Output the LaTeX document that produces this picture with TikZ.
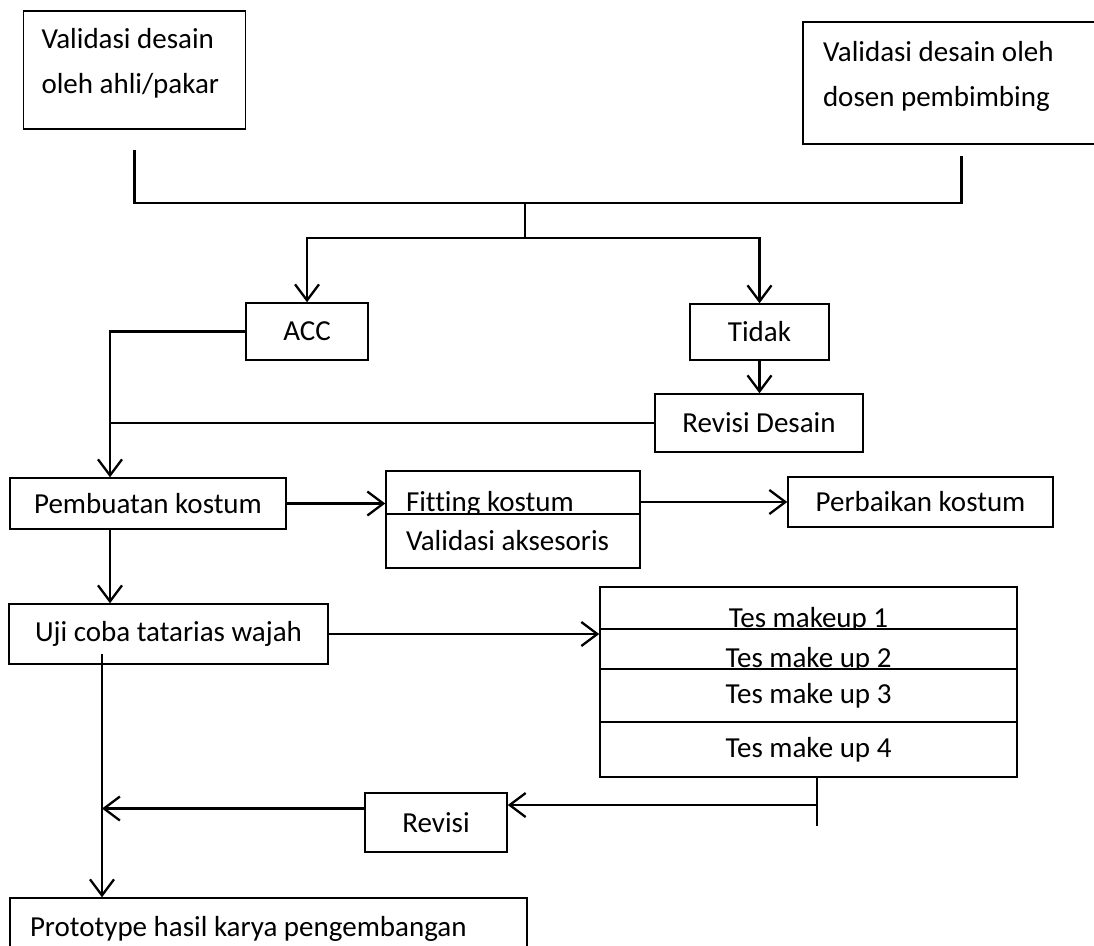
\documentclass[tikz,border=0pt]{standalone}
\usepackage{fontspec}
\setmainfont{Carlito}[Ligatures=NoCommon]
\usetikzlibrary{arrows.meta, positioning, calc}
\tikzset{
  box/.style   = {draw, line width=1.5pt, fill=white, inner sep=0pt, align=center,
                  font=\fontsize{29}{41}\selectfont},
  lbox/.style  = {box, align=flush left, inner xsep=20pt},
  cut/.style   = {text height=38pt, text depth=0pt},
  high/.style  = {font=\fontsize{29}{45}\selectfont, text height=22pt, text depth=66pt},
  arrow/.style = {-{Straight Barb[length=16pt,width=24pt]}, line width=2.3pt},
  line/.style  = {line width=2.3pt},
}

\begin{document}
\begin{tikzpicture}[x=1pt, y=-1pt]
  \useasboundingbox (0,0) rectangle (1094,945);
  % validasi
  \node[lbox, high, text width=186pt, inner xsep=18pt, minimum height=118pt] (ahli) at (134.5,70)
       {Validasi desain\\oleh ahli/pakar};
  \node[lbox, high, text width=277pt, minimum height=122pt] (dosen) at (961.5,83)
       {Validasi desain oleh\\dosen pembimbing};
  \node[box, minimum width=122pt, minimum height=57pt] (acc) at (307,331.5) {ACC};
  \node[box, minimum width=139pt, minimum height=56pt] (tidak) at (759.5,332) {Tidak};
  \node[box, minimum width=208pt, minimum height=58pt] (revd) at (759,423) {Revisi Desain};
  % kostum
  \node[box, minimum width=276pt, minimum height=51pt] (pemb) at (148,503.5) {Pembuatan kostum};
  \node[lbox, cut, text width=214pt, minimum height=43pt] (fit) at (513,492.5) {Fitting kostum};
  \node[lbox, text width=214pt, minimum height=54pt] (aks) at (513,541) {Validasi aksesoris};
  \node[box, minimum width=265pt, minimum height=50pt] (perb) at (920.5,502) {Perbaikan kostum};
  % tatarias
  \node[box, minimum width=319pt, minimum height=60pt] (uji) at (168.5,634) {Uji coba tatarias wajah};
  \node[box, cut, minimum width=417pt, minimum height=42pt] (t1) at (808.5,608) {Tes makeup 1};
  \node[box, cut, text height=37pt, minimum width=417pt, minimum height=40pt] (t2) at (808.5,649) {Tes make up 2};
  \node[box, minimum width=417pt, minimum height=53pt] (t3) at (808.5,695.5) {Tes make up 3};
  \node[box, minimum width=417pt, minimum height=55pt] (t4) at (808.5,749.5) {Tes make up 4};
  \node[box, minimum width=142pt, minimum height=59pt] (revisi) at (436,822.5) {Revisi};
  \node[lbox, text width=477pt, minimum height=62pt] (proto) at (268.5,929)
       {Prototype hasil karya pengembangan};

  \coordinate (jt) at (525,203);
  \coordinate (jb) at (525,238);
  \coordinate (trunk) at (110,0);
  \coordinate (trunk2) at (102,0);
  \coordinate (tail) at (817,826);
  \coordinate (rv) at (817,805);

  \draw[line] ([yshift=-20pt]ahli.south) |- (jt) -| ([yshift=-11pt]dosen.south);
  \draw[line] (jt) -- (jb);
  \draw[arrow] (jb) -| (acc.north);
  \draw[arrow] (jb) -| (tidak.north);
  \draw[arrow] (tidak.south) -- (tidak.south |- revd.north);
  \draw[arrow] (acc.west) -| (pemb.north -| trunk);
  \draw[line] (revd.west) -- (revd.west -| trunk);
  \draw[arrow] (pemb.east) -- (pemb.east -| fit.west);
  \draw[arrow] (perb.west -| fit.east) -- (perb.west);
  \draw[arrow] (pemb.south -| trunk) -- (uji.north -| trunk);
  \draw[arrow] (uji.east) -- (uji.east -| t1.west);
  \draw[arrow] ([yshift=11pt]uji.south -| trunk2) -- (proto.north -| trunk2);
  \draw[line] (t4.south -| tail) -- (tail);
  \draw[arrow] (rv) -- (rv -| revisi.east);
  \draw[arrow] ([yshift=14pt]revisi.west) -- ([yshift=14pt]revisi.west -| trunk2);
\end{tikzpicture}
\end{document}
